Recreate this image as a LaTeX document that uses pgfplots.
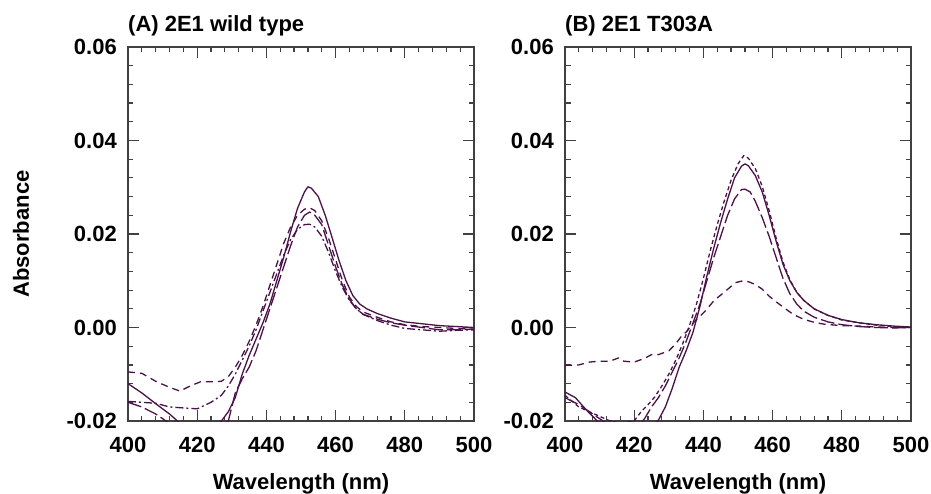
\documentclass[border=0pt]{standalone}
\usepackage{fontspec}
\setmainfont{Liberation Sans}
\usepackage{pgfplots}
\pgfplotsset{compat=1.18}
\definecolor{spec}{HTML}{4A1248}
\definecolor{frame}{HTML}{404040}
\pgfplotsset{
  specaxis/.style={
    scale only axis, width=346pt, height=374pt,
    xmin=400, xmax=500, ymin=-0.02, ymax=0.06,
    xtick={400,420,440,460,480,500},
    xticklabels={400,420,440,460,480,500},
    ytick={-0.02,0,0.02,0.04,0.06},
    yticklabels={-0.02,0.00,0.02,0.04,0.06},
    scaled y ticks=false, scaled x ticks=false,
    minor x tick num=4, minor y tick num=4,
    tick align=inside,
    major tick length=11pt, minor tick length=5.5pt,
    axis line style={line width=1.4pt, draw=frame},
    tick style={line width=1.2pt, draw=frame},
    font=\fontsize{22}{26}\selectfont\bfseries,
    xticklabel style={anchor=north, inner sep=0pt, yshift=-16pt},
    yticklabel style={anchor=east, inner sep=0pt, xshift=-11pt},
    xlabel={Wavelength (nm)},
    xlabel style={at={(axis description cs:0.5,0)}, anchor=north, inner sep=0pt, yshift=-52pt},
    title style={at={(axis description cs:0,1)}, anchor=base west, inner sep=0pt, yshift=9pt},
    every axis plot/.append style={color=spec, line width=1.3pt, line join=round},
  },
  sSolid/.style={solid},
  sLong/.style={dash pattern=on 14pt off 4pt},
  sMed/.style={dash pattern=on 7pt off 5pt},
  sShort/.style={dash pattern=on 4pt off 3pt},
  sDashDot/.style={dash pattern=on 8pt off 3pt on 2pt off 3pt},
}
\begin{document}
\begin{tikzpicture}
\path[use as bounding box] (-128pt,-72pt) rectangle (803pt,421pt);
% (A) wild type
\begin{axis}[specaxis, title={(A) 2E1 wild type},
  ylabel={Absorbance},
  ylabel style={at={(axis description cs:-0.309,0.5)}, anchor=center, inner sep=0pt}]
\addplot[sSolid] table {
400 -0.0120
404 -0.0140
408 -0.0163
412 -0.0185
414 -0.0198
416 -0.0215
420 -0.0225
424 -0.0220
427 -0.0200
429 -0.0180
431 -0.0150
433 -0.0100
435 -0.0060
437 -0.0025
439 0.0010
441 0.0050
443 0.0100
445 0.0150
447 0.0205
449 0.0255
451 0.0290
452 0.0301
453 0.0298
455 0.0280
457 0.0240
459 0.0192
461 0.0143
463 0.0100
465 0.0068
467 0.0050
469 0.0040
472 0.0030
476 0.0020
480 0.0012
485 0.0008
490 0.0004
495 0.0002
500 0.0000
};
\addplot[sLong] table {
400 -0.0160
404 -0.0170
408 -0.0185
411 -0.0200
414 -0.0215
420 -0.0225
426 -0.0215
429 -0.0200
431 -0.0140
433 -0.0110
435 -0.0085
437 -0.0050
439 -0.0005
441 0.0040
443 0.0085
445 0.0130
447 0.0175
449 0.0215
451 0.0240
452.5 0.0247
454 0.0240
456 0.0220
458 0.0175
460 0.0130
462 0.0090
464 0.0060
466 0.0040
468 0.0028
472 0.0018
476 0.0010
480 0.0005
485 0.0000
490 -0.0005
495 -0.0005
500 -0.0003
};
\addplot[sMed] table {
400 -0.0095
404 -0.0098
408 -0.0115
412 -0.0128
415 -0.0136
418 -0.0125
421 -0.0116
425 -0.0116
427 -0.0115
429 -0.0105
431 -0.0085
433 -0.0060
435 -0.0030
437 0.0005
439 0.0045
441 0.0090
443 0.0135
445 0.0180
447 0.0215
449 0.0240
451 0.0253
452.5 0.0256
454 0.0250
456 0.0228
458 0.0190
460 0.0145
462 0.0100
464 0.0065
466 0.0045
468 0.0033
472 0.0022
476 0.0012
480 0.0006
485 0.0002
490 0.0000
495 -0.0002
500 -0.0004
};
\addplot[sDashDot] table {
400 -0.0158
404 -0.0160
408 -0.0162
412 -0.0170
416 -0.0172
420 -0.0174
424 -0.0160
427 -0.0145
429 -0.0125
431 -0.0100
433 -0.0070
435 -0.0040
437 -0.0005
439 0.0035
441 0.0075
443 0.0115
445 0.0155
447 0.0188
449 0.0210
451 0.0220
452.5 0.0221
454 0.0215
456 0.0195
458 0.0160
460 0.0120
462 0.0085
464 0.0058
466 0.0040
468 0.0028
472 0.0015
476 0.0005
480 -0.0002
485 -0.0005
490 -0.0008
495 -0.0006
500 -0.0005
};
\end{axis}
% (B) T303A
\begin{axis}[specaxis, at={(437pt,0)}, anchor=south west, title={(B) 2E1 T303A}]
\addplot[sShort] table {
400 -0.0145
404 -0.0170
407 -0.0180
410 -0.0190
413 -0.0200
416 -0.0205
420 -0.0200
422 -0.0180
424 -0.0165
426 -0.0148
428 -0.0125
430 -0.0100
432 -0.0070
434 -0.0035
436 0.0005
438 0.0050
440 0.0105
442 0.0165
444 0.0220
446 0.0270
448 0.0315
450 0.0350
451.7 0.0368
453 0.0362
455 0.0340
457 0.0302
459 0.0250
461 0.0192
463 0.0140
465 0.0102
467 0.0075
469 0.0058
472 0.0040
476 0.0026
480 0.0016
485 0.0010
490 0.0005
495 0.0002
500 0.0000
};
\addplot[sSolid] table {
400 -0.0138
403 -0.0150
406 -0.0175
408 -0.0190
410 -0.0205
414 -0.0220
420 -0.0230
425 -0.0215
427 -0.0198
429 -0.0170
431 -0.0130
433 -0.0085
435 -0.0050
437 -0.0010
439 0.0045
441 0.0110
443 0.0170
445 0.0225
447 0.0275
449 0.0320
451 0.0345
452 0.0350
453 0.0346
455 0.0325
457 0.0290
459 0.0240
461 0.0185
463 0.0135
465 0.0100
467 0.0075
469 0.0058
472 0.0040
476 0.0026
480 0.0017
485 0.0010
490 0.0006
495 0.0003
500 0.0001
};
\addplot[sLong] table {
400 -0.0150
404 -0.0165
408 -0.0185
411 -0.0200
415 -0.0215
420 -0.0220
423 -0.0195
425 -0.0170
427 -0.0150
429 -0.0125
431 -0.0095
433 -0.0065
435 -0.0030
437 0.0010
439 0.0050
441 0.0100
443 0.0150
445 0.0195
447 0.0240
449 0.0275
451 0.0295
452 0.0296
453.5 0.0290
455 0.0270
457 0.0235
459 0.0195
461 0.0150
463 0.0105
465 0.0072
467 0.0050
469 0.0035
472 0.0022
476 0.0012
480 0.0006
485 0.0002
490 0.0000
495 -0.0001
500 0.0000
};
\addplot[sMed] table {
400 -0.0081
404 -0.0080
407 -0.0074
410 -0.0072
413 -0.0072
415.5 -0.0065
417 -0.0072
420 -0.0074
423 -0.0066
425 -0.0058
427 -0.0058
430 -0.0050
432 -0.0035
434 -0.0015
435 -0.0010
437.6 0.0014
440.5 0.0035
443 0.0057
446.4 0.0078
449.3 0.0096
451.5 0.0100
453 0.0098
455 0.0092
457 0.0082
459 0.0067
461 0.0055
463.9 0.0039
466 0.0028
468.8 0.0018
472 0.0011
475 0.0007
480 0.0004
485 0.0003
490 0.0001
495 0.0000
500 0.0000
};
\end{axis}
\end{tikzpicture}
\end{document}
